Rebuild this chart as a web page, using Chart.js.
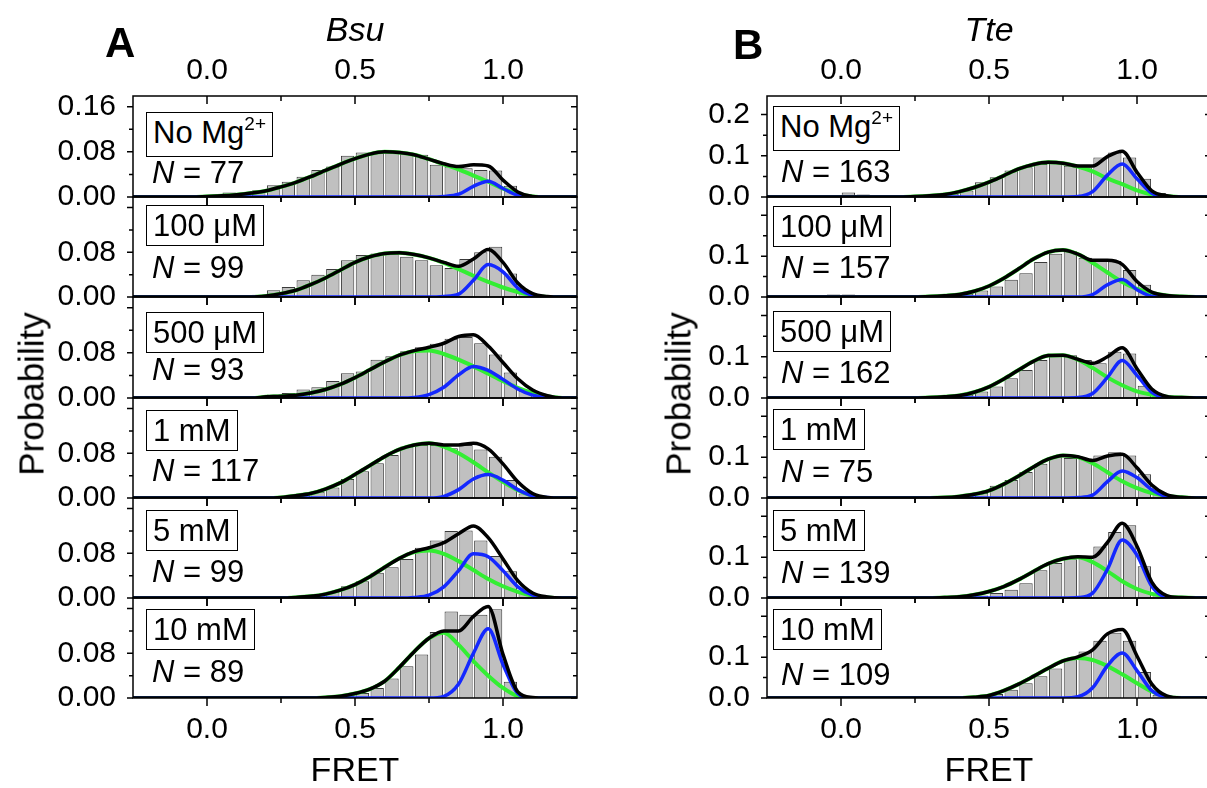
<!DOCTYPE html>
<html lang="en">
<head>
<meta charset="UTF-8">
<title>FRET histograms Bsu / Tte</title>
<script src="https://cdn.jsdelivr.net/npm/chart.js@4"></script>
<style>
  html, body { margin: 0; padding: 0; background: #fff; overflow: hidden; }
  #fig { position: relative; width: 1207px; height: 788px; overflow: hidden;
         font-family: 'Liberation Sans', Arial, sans-serif; color: #000; }
  #fig canvas { position: absolute; }
  .tag { position: absolute; font-size: 31px; line-height: 39px; border: 1.5px solid #000;
         padding: 0 6px; white-space: nowrap; background: #fff; }
  .sup { font-size: 19px; position: relative; top: -13px; }
  .num { position: absolute; font-size: 31px; line-height: 31px; white-space: nowrap; }
  .letter { position: absolute; font-size: 42px; font-weight: bold; line-height: 42px; }
  .ytitle { position: absolute; font-size: 35px; line-height: 35px; white-space: nowrap;
            transform: translate(-50%, -50%) rotate(-90deg); }
</style>
</head>
<body>
<div id="fig"></div>

<script>
// grid of the fitted curves (FRET) and centres of the 0.05 wide histogram bins
const fretX = [-0.25, -0.2, -0.15, -0.1, -0.05, 0, 0.05, 0.1, 0.15, 0.2, 0.25, 0.3, 0.35, 0.4, 0.45, 0.5,
               0.55, 0.6, 0.65, 0.7, 0.75, 0.8, 0.85, 0.9, 0.95, 1, 1.05, 1.1, 1.15, 1.2, 1.25];
const binX = [-0.025, 0.025, 0.075, 0.125, 0.175, 0.225, 0.275, 0.325, 0.375, 0.425, 0.475, 0.525,
              0.575, 0.625, 0.675, 0.725, 0.775, 0.825, 0.875, 0.925, 0.975, 1.025, 1.075, 1.125];

const conditions = ['No Mg<span class="sup">2+</span>', '100 μM', '500 μM', '1 mM', '5 mM', '10 mM'];
const nBsu = [77, 99, 93, 117, 99, 89];
const nTte = [163, 157, 162, 75, 139, 109];

// ---- Bsu (A) ----
const barsBsu = [
  [0, 0.003, 0.008, 0.006, 0.012, 0.021, 0.027, 0.036, 0.048, 0.054, 0.073, 0.079, 0.079, 0.081, 0.079, 0.075, 0.057, 0.054, 0.051, 0.048, 0.047, 0.020, 0.005, 0],
  [0, 0, 0, 0.002, 0.004, 0.012, 0.018, 0.030, 0.040, 0.050, 0.066, 0.075, 0.078, 0.078, 0.072, 0.066, 0.057, 0.052, 0.068, 0.080, 0.090, 0.042, 0.010, 0],
  [0, 0, 0, 0, 0.003, 0.006, 0.009, 0.015, 0.019, 0.030, 0.044, 0.047, 0.068, 0.074, 0.083, 0.090, 0.096, 0.105, 0.108, 0.097, 0.077, 0.045, 0.013, 0],
  [0, 0, 0, 0, 0, 0, 0.003, 0.005, 0.011, 0.019, 0.034, 0.048, 0.062, 0.077, 0.092, 0.095, 0.095, 0.089, 0.095, 0.087, 0.074, 0.032, 0.008, 0],
  [0, 0, 0.002, 0.002, 0.002, 0.002, 0.003, 0.004, 0.005, 0.011, 0.021, 0.030, 0.045, 0.055, 0.070, 0.090, 0.103, 0.120, 0.121, 0.103, 0.075, 0.048, 0.010, 0],
  [0, 0, 0, 0, 0, 0, 0, 0, 0, 0, 0.003, 0.009, 0.018, 0.035, 0.057, 0.078, 0.118, 0.155, 0.149, 0.149, 0.159, 0.029, 0, 0]
];
const totalBsu = [
  [0, 0, 0, 0, 0, 0.001, 0.002, 0.004, 0.007, 0.011, 0.018, 0.026, 0.036, 0.047, 0.058, 0.068, 0.076, 0.080, 0.079, 0.075, 0.067, 0.059, 0.054, 0.057, 0.055, 0.030, 0.009, 0.001, 0, 0, 0],
  [0, 0, 0, 0, 0, 0, 0, 0, 0, 0.002, 0.006, 0.012, 0.022, 0.034, 0.048, 0.062, 0.072, 0.078, 0.079, 0.076, 0.070, 0.062, 0.055, 0.068, 0.085, 0.062, 0.025, 0.006, 0.001, 0, 0],
  [0, 0, 0, 0, 0, 0, 0, 0, 0, 0.002, 0.003, 0.005, 0.009, 0.015, 0.024, 0.036, 0.050, 0.064, 0.076, 0.084, 0.090, 0.097, 0.109, 0.112, 0.092, 0.063, 0.034, 0.014, 0.004, 0, 0],
  [0, 0, 0, 0, 0, 0, 0, 0, 0, 0, 0.001, 0.004, 0.008, 0.016, 0.027, 0.042, 0.058, 0.074, 0.087, 0.095, 0.098, 0.095, 0.095, 0.098, 0.088, 0.061, 0.029, 0.008, 0.001, 0, 0],
  [0, 0, 0, 0, 0, 0, 0, 0, 0, 0, 0, 0.001, 0.003, 0.007, 0.014, 0.024, 0.038, 0.055, 0.071, 0.083, 0.090, 0.099, 0.115, 0.129, 0.108, 0.070, 0.031, 0.009, 0.002, 0, 0],
  [0, 0, 0, 0, 0, 0, 0, 0, 0, 0, 0, 0, 0, 0.001, 0.003, 0.008, 0.016, 0.030, 0.055, 0.083, 0.107, 0.120, 0.120, 0.146, 0.164, 0.078, 0.011, 0.001, 0, 0, 0]
];
const lowBsu = [
  [0, 0, 0, 0, 0, 0.001, 0.002, 0.004, 0.007, 0.011, 0.018, 0.026, 0.036, 0.047, 0.058, 0.068, 0.076, 0.080, 0.079, 0.075, 0.067, 0.058, 0.049, 0.038, 0.027, 0.015, 0.006, 0.001, 0, 0, 0],
  [0, 0, 0, 0, 0, 0, 0, 0, 0, 0.002, 0.006, 0.012, 0.022, 0.034, 0.048, 0.062, 0.072, 0.078, 0.079, 0.076, 0.070, 0.061, 0.050, 0.038, 0.027, 0.017, 0.009, 0.003, 0, 0, 0],
  [0, 0, 0, 0, 0, 0, 0, 0, 0, 0.002, 0.003, 0.005, 0.009, 0.015, 0.024, 0.036, 0.050, 0.064, 0.076, 0.083, 0.084, 0.078, 0.068, 0.056, 0.043, 0.030, 0.018, 0.009, 0.003, 0, 0],
  [0, 0, 0, 0, 0, 0, 0, 0, 0, 0, 0.001, 0.004, 0.008, 0.016, 0.027, 0.042, 0.058, 0.074, 0.087, 0.095, 0.098, 0.092, 0.080, 0.064, 0.046, 0.029, 0.014, 0.004, 0, 0, 0],
  [0, 0, 0, 0, 0, 0, 0, 0, 0, 0, 0, 0.001, 0.003, 0.007, 0.014, 0.024, 0.038, 0.055, 0.071, 0.082, 0.085, 0.079, 0.066, 0.050, 0.034, 0.021, 0.011, 0.004, 0.001, 0, 0],
  [0, 0, 0, 0, 0, 0, 0, 0, 0, 0, 0, 0, 0, 0.001, 0.003, 0.008, 0.016, 0.030, 0.055, 0.083, 0.107, 0.117, 0.095, 0.066, 0.040, 0.018, 0.003, 0, 0, 0, 0]
];
const highBsu = [
  [0, 0, 0, 0, 0, 0, 0, 0, 0, 0, 0, 0, 0, 0, 0, 0, 0, 0, 0, 0, 0, 0.001, 0.005, 0.019, 0.028, 0.015, 0.003, 0, 0, 0, 0],
  [0, 0, 0, 0, 0, 0, 0, 0, 0, 0, 0, 0, 0, 0, 0, 0, 0, 0, 0, 0, 0, 0.001, 0.005, 0.030, 0.058, 0.045, 0.016, 0.003, 0, 0, 0],
  [0, 0, 0, 0, 0, 0, 0, 0, 0, 0, 0, 0, 0, 0, 0, 0, 0, 0, 0, 0.001, 0.006, 0.019, 0.041, 0.056, 0.049, 0.033, 0.016, 0.005, 0.001, 0, 0],
  [0, 0, 0, 0, 0, 0, 0, 0, 0, 0, 0, 0, 0, 0, 0, 0, 0, 0, 0, 0, 0, 0.003, 0.015, 0.034, 0.042, 0.032, 0.015, 0.004, 0.001, 0, 0],
  [0, 0, 0, 0, 0, 0, 0, 0, 0, 0, 0, 0, 0, 0, 0, 0, 0, 0, 0, 0.001, 0.005, 0.020, 0.049, 0.079, 0.074, 0.049, 0.020, 0.005, 0.001, 0, 0],
  [0, 0, 0, 0, 0, 0, 0, 0, 0, 0, 0, 0, 0, 0, 0, 0, 0, 0, 0, 0, 0, 0.003, 0.025, 0.080, 0.124, 0.060, 0.008, 0, 0, 0, 0]
];

// ---- Tte (B) ----
const barsTte = [
  [0.005, 0.011, 0.006, 0, 0, 0, 0, 0.003, 0.008, 0.016, 0.036, 0.048, 0.064, 0.072, 0.080, 0.082, 0.076, 0.072, 0.096, 0.108, 0.096, 0.044, 0.010, 0],
  [0.006, 0.006, 0, 0, 0, 0, 0, 0.003, 0.005, 0.008, 0.016, 0.026, 0.042, 0.058, 0.086, 0.106, 0.112, 0.096, 0.088, 0.088, 0.066, 0.030, 0.006, 0],
  [0, 0, 0, 0, 0, 0, 0, 0, 0.004, 0.008, 0.016, 0.028, 0.048, 0.068, 0.092, 0.104, 0.104, 0.092, 0.084, 0.112, 0.108, 0.030, 0.006, 0],
  [0, 0, 0, 0, 0, 0, 0, 0, 0, 0.005, 0.012, 0.030, 0.044, 0.064, 0.084, 0.100, 0.098, 0.096, 0.104, 0.112, 0.104, 0.058, 0.010, 0],
  [0, 0, 0, 0, 0, 0, 0, 0, 0, 0, 0.006, 0.012, 0.020, 0.036, 0.068, 0.086, 0.095, 0.100, 0.126, 0.162, 0.178, 0.078, 0.008, 0],
  [0, 0, 0, 0, 0, 0, 0, 0, 0, 0, 0.004, 0.010, 0.020, 0.036, 0.053, 0.072, 0.096, 0.114, 0.140, 0.160, 0.140, 0.064, 0.008, 0]
];
const totalTte = [
  [0, 0, 0, 0, 0, 0, 0, 0, 0, 0, 0.001, 0.003, 0.006, 0.013, 0.023, 0.036, 0.052, 0.068, 0.079, 0.084, 0.082, 0.075, 0.075, 0.098, 0.111, 0.060, 0.015, 0.003, 0, 0, 0],
  [0, 0, 0, 0, 0, 0, 0, 0, 0, 0, 0, 0.001, 0.003, 0.006, 0.014, 0.027, 0.046, 0.069, 0.093, 0.110, 0.115, 0.105, 0.090, 0.090, 0.080, 0.038, 0.012, 0.004, 0.001, 0, 0],
  [0, 0, 0, 0, 0, 0, 0, 0, 0, 0, 0, 0.001, 0.003, 0.006, 0.014, 0.027, 0.046, 0.068, 0.089, 0.103, 0.104, 0.094, 0.084, 0.100, 0.122, 0.071, 0.022, 0.004, 0.001, 0, 0],
  [0, 0, 0, 0, 0, 0, 0, 0, 0, 0, 0, 0, 0.001, 0.004, 0.009, 0.018, 0.034, 0.054, 0.076, 0.095, 0.104, 0.101, 0.092, 0.103, 0.107, 0.074, 0.032, 0.008, 0.002, 0, 0],
  [0, 0, 0, 0, 0, 0, 0, 0, 0, 0, 0, 0, 0.001, 0.003, 0.008, 0.016, 0.028, 0.045, 0.065, 0.084, 0.096, 0.101, 0.100, 0.136, 0.183, 0.127, 0.039, 0.006, 0.001, 0, 0],
  [0, 0, 0, 0, 0, 0, 0, 0, 0, 0, 0, 0, 0, 0, 0.002, 0.006, 0.018, 0.034, 0.053, 0.073, 0.091, 0.101, 0.118, 0.157, 0.168, 0.103, 0.034, 0.005, 0, 0, 0]
];
const lowTte = [
  [0, 0, 0, 0, 0, 0, 0, 0, 0, 0, 0.001, 0.003, 0.006, 0.013, 0.023, 0.036, 0.052, 0.068, 0.079, 0.084, 0.082, 0.074, 0.062, 0.045, 0.031, 0.016, 0.006, 0.002, 0, 0, 0],
  [0, 0, 0, 0, 0, 0, 0, 0, 0, 0, 0, 0.001, 0.003, 0.006, 0.014, 0.027, 0.046, 0.069, 0.093, 0.110, 0.115, 0.105, 0.084, 0.060, 0.037, 0.020, 0.010, 0.004, 0.001, 0, 0],
  [0, 0, 0, 0, 0, 0, 0, 0, 0, 0, 0, 0.001, 0.003, 0.006, 0.014, 0.027, 0.046, 0.068, 0.089, 0.103, 0.104, 0.093, 0.073, 0.050, 0.031, 0.016, 0.008, 0.003, 0.001, 0, 0],
  [0, 0, 0, 0, 0, 0, 0, 0, 0, 0, 0, 0, 0.001, 0.004, 0.009, 0.018, 0.034, 0.054, 0.076, 0.095, 0.104, 0.100, 0.085, 0.063, 0.041, 0.024, 0.012, 0.005, 0.002, 0, 0],
  [0, 0, 0, 0, 0, 0, 0, 0, 0, 0, 0, 0, 0.001, 0.003, 0.008, 0.016, 0.028, 0.045, 0.065, 0.084, 0.096, 0.100, 0.088, 0.066, 0.041, 0.022, 0.010, 0.004, 0.001, 0, 0],
  [0, 0, 0, 0, 0, 0, 0, 0, 0, 0, 0, 0, 0, 0, 0.002, 0.006, 0.018, 0.034, 0.053, 0.073, 0.091, 0.098, 0.093, 0.078, 0.058, 0.036, 0.016, 0.003, 0, 0, 0]
];
const highTte = [
  [0, 0, 0, 0, 0, 0, 0, 0, 0, 0, 0, 0, 0, 0, 0, 0, 0, 0, 0, 0, 0, 0.001, 0.013, 0.053, 0.080, 0.044, 0.009, 0.001, 0, 0, 0],
  [0, 0, 0, 0, 0, 0, 0, 0, 0, 0, 0, 0, 0, 0, 0, 0, 0, 0, 0, 0, 0, 0, 0.006, 0.030, 0.043, 0.018, 0.002, 0, 0, 0, 0],
  [0, 0, 0, 0, 0, 0, 0, 0, 0, 0, 0, 0, 0, 0, 0, 0, 0, 0, 0, 0, 0, 0.001, 0.011, 0.050, 0.091, 0.055, 0.014, 0.001, 0, 0, 0],
  [0, 0, 0, 0, 0, 0, 0, 0, 0, 0, 0, 0, 0, 0, 0, 0, 0, 0, 0, 0, 0, 0.001, 0.007, 0.040, 0.066, 0.050, 0.020, 0.003, 0, 0, 0],
  [0, 0, 0, 0, 0, 0, 0, 0, 0, 0, 0, 0, 0, 0, 0, 0, 0, 0, 0, 0, 0, 0.001, 0.012, 0.070, 0.142, 0.105, 0.029, 0.002, 0, 0, 0],
  [0, 0, 0, 0, 0, 0, 0, 0, 0, 0, 0, 0, 0, 0, 0, 0, 0, 0, 0, 0, 0, 0.003, 0.025, 0.079, 0.110, 0.067, 0.018, 0.002, 0, 0, 0]
];

const xLabels = [0, 0.5, 1];
const xMinor = [0.25, 0.75];

// layout (pixels)
const panelTop = [96, 197, 297, 398, 498, 598, 698];
const plotW = 444, yAxisW = 90, padR = 4;

const columns = [
  { left: 133, title: 'Bsu', letter: 'A', letterPos: [105, 22], ytitleX: 31,
    yMax: 0.179, yTicks: [0, 0.08, 0.16], yMinor: [0.04, 0.12], dec: 2,
    bars: barsBsu, total: totalBsu, low: lowBsu, high: highBsu, n: nBsu,
    boxLeft: 146, boxTop: [112, 205, 312, 410, 510, 609],
    nLeft: 152, nBase: [183, 278, 380, 481, 582, 682] },
  { left: 767, title: 'Tte', letter: 'B', letterPos: [733, 24], ytitleX: 678,
    yMax: 0.245, yTicks: [0, 0.1, 0.2], yMinor: [0.05, 0.15], dec: 1,
    bars: barsTte, total: totalTte, low: lowTte, high: highTte, n: nTte,
    boxLeft: 773, boxTop: [106, 206, 311, 409, 510, 609],
    nLeft: 781, nBase: [182, 278, 383, 482, 583, 685] }
];

Chart.defaults.font.family = "'Liberation Sans', Arial, sans-serif";
Chart.defaults.color = '#000';

// frame + Origin-like ticks (top/right inward, left/bottom outward)
const frame = {
  id: 'frame',
  afterDatasetsDraw(chart, args, opts) {
    const {ctx, chartArea: a} = chart;
    const xs = chart.scales.x, ys = chart.scales.y;
    ctx.save();
    ctx.strokeStyle = '#000';
    ctx.lineWidth = 1.5;
    ctx.beginPath();
    const xt = xLabels.map(v => [v, 8]).concat(xMinor.map(v => [v, 5]));
    xt.forEach(([v, len]) => {
      const p = xs.getPixelForValue(v);
      ctx.moveTo(p, a.top); ctx.lineTo(p, a.top + len);
      ctx.moveTo(p, a.bottom); ctx.lineTo(p, a.bottom + len);
    });
    const yt = opts.major.map(v => [v, 6]).concat(opts.minor.map(v => [v, 4]));
    yt.forEach(([v, len]) => {
      const p = ys.getPixelForValue(v);
      ctx.moveTo(a.left - len, p); ctx.lineTo(a.left, p);
      ctx.moveTo(a.right - len, p); ctx.lineTo(a.right, p);
    });
    ctx.stroke();
    ctx.strokeRect(a.left, a.top, a.right - a.left, a.bottom - a.top);
    ctx.restore();
  }
};

const fig = document.getElementById('fig');

function curve(vals, color, width, order) {
  return {
    type: 'line',
    data: fretX.map((x, i) => ({x: x, y: vals[i]})),
    borderColor: color, borderWidth: width, pointRadius: 0, fill: false,
    cubicInterpolationMode: 'monotone', order: order
  };
}

columns.forEach(col => {
  for (let i = 0; i < 6; i++) {
    const T = panelTop[i], B = panelTop[i + 1];
    const first = i === 0, last = i === 5;
    let top, height, pad, xH;
    if (first) { top = 0; pad = {top: 0, bottom: 20}; height = B + 20; xH = T; }
    else if (last) { top = T - 20; pad = {top: 20, bottom: 0}; height = 20 + (B - T) + 110; xH = 110; }
    else { top = T - 20; pad = {top: 20, bottom: 20}; height = (B - T) + 40; xH = 0; }

    const cv = document.createElement('canvas');
    cv.width = yAxisW + plotW + padR;
    cv.height = height;
    cv.style.left = (col.left - yAxisW) + 'px';
    cv.style.top = top + 'px';
    fig.appendChild(cv);

    const yLab = first ? col.yTicks : col.yTicks.slice(0, 2);

    new Chart(cv.getContext('2d'), {
      type: 'bar',
      data: {
        datasets: [
          {
            type: 'bar',
            data: binX.map((x, k) => ({x: x, y: col.bars[i][k]})).filter(p => p.y > 0),
            backgroundColor: '#c0c0c0', borderColor: '#3a3a3a', borderWidth: 1,
            barPercentage: 0.9, categoryPercentage: 1, grouped: false, order: 4
          },
          curve(col.low[i], '#33ee33', 4, 3),
          curve(col.high[i], '#1428ff', 3.5, 2),
          curve(col.total[i], '#000000', 3.5, 1)
        ]
      },
      options: {
        responsive: false,
        animation: false,
        devicePixelRatio: 1,
        events: [],
        layout: {padding: {left: 0, right: padR, top: pad.top, bottom: pad.bottom}},
        plugins: {
          legend: {display: false},
          tooltip: {enabled: false},
          frame: {major: col.yTicks, minor: col.yMinor}
        },
        scales: {
          x: {
            type: 'linear', min: -0.25, max: 1.25, offset: false,
            display: first || last,
            position: first ? 'top' : 'bottom',
            grid: {display: false, drawTicks: false},
            border: {display: false},
            ticks: {font: {size: 30}, padding: first ? 7 : 14, maxRotation: 0, autoSkip: false,
                    callback: v => v.toFixed(1)},
            afterBuildTicks: s => { s.ticks = xLabels.map(v => ({value: v})); },
            afterFit: s => { s.height = xH; s.paddingLeft = 0; s.paddingRight = 0; },
            title: {
              display: true,
              text: first ? col.title : 'FRET',
              font: {size: 34, style: first ? 'italic' : 'normal'},
              padding: first ? {top: 11, bottom: 0} : {top: 0, bottom: 16}
            }
          },
          y: {
            type: 'linear', min: 0, max: col.yMax,
            grid: {display: false, drawTicks: false},
            border: {display: false},
            ticks: {font: {size: 30}, padding: 17, callback: v => v.toFixed(col.dec)},
            afterBuildTicks: s => { s.ticks = yLab.map(v => ({value: v})); },
            afterFit: s => { s.width = yAxisW; s.paddingTop = 0; s.paddingBottom = 0; }
          }
        }
      },
      plugins: [frame]
    });
  }
});

// text overlays: condition boxes, N counts, panel letters, y titles
columns.forEach(col => {
  for (let i = 0; i < 6; i++) {
    const box = document.createElement('div');
    box.className = 'tag';
    box.innerHTML = conditions[i];
    box.style.left = col.boxLeft + 'px';
    box.style.top = col.boxTop[i] + 'px';
    fig.appendChild(box);

    const n = document.createElement('div');
    n.className = 'num';
    n.innerHTML = '<i>N</i> = ' + col.n[i];
    n.style.left = col.nLeft + 'px';
    n.style.top = (col.nBase[i] - 26) + 'px';
    fig.appendChild(n);
  }
  const L = document.createElement('div');
  L.className = 'letter';
  L.textContent = col.letter;
  L.style.left = col.letterPos[0] + 'px';
  L.style.top = col.letterPos[1] + 'px';
  fig.appendChild(L);

  const yt = document.createElement('div');
  yt.className = 'ytitle';
  yt.textContent = 'Probability';
  yt.style.left = col.ytitleX + 'px';
  yt.style.top = '394px';
  fig.appendChild(yt);
});
</script>
</body>
</html>
